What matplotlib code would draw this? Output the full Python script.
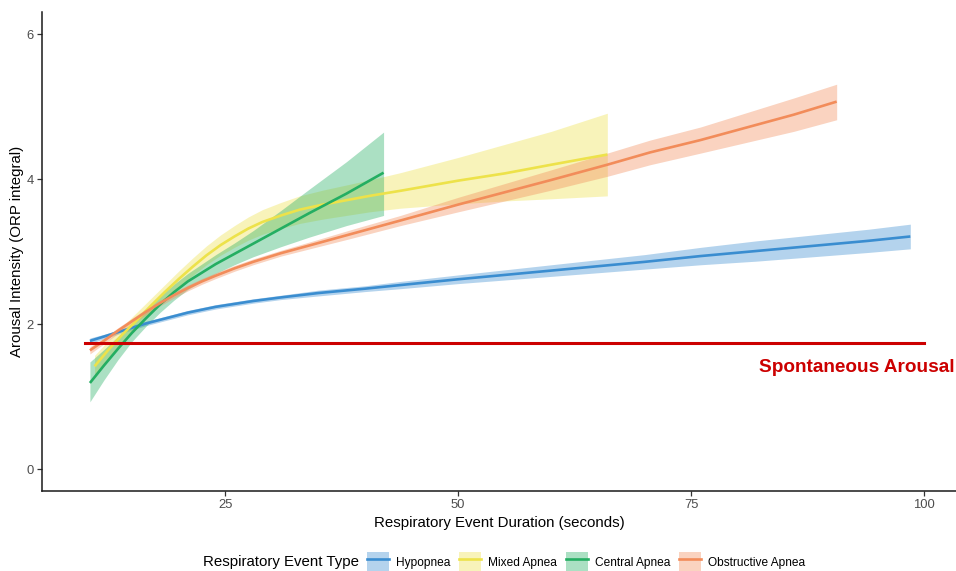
import matplotlib
matplotlib.use("Agg")
import matplotlib.pyplot as plt
from matplotlib.patches import Patch
from matplotlib.lines import Line2D

plt.rcParams["font.family"] = ["Liberation Sans", "DejaVu Sans"]

# ---------------- data ----------------
hypo_x = [10.5, 12, 13.5, 15, 16.5, 18, 19.5, 21, 22.5, 24, 26, 28, 31, 35, 40, 43.8,
          50, 55, 60, 65, 70, 76, 82, 88, 94, 98.5]
hypo_y = [1.77, 1.83, 1.89, 1.95, 2.01, 2.06, 2.11, 2.16, 2.20, 2.24, 2.28, 2.32, 2.37, 2.43, 2.49, 2.54,
          2.62, 2.68, 2.74, 2.80, 2.86, 2.94, 3.01, 3.08, 3.15, 3.21]
hypo_lo = [1.73, 1.80, 1.86, 1.92, 1.98, 2.03, 2.08, 2.13, 2.17, 2.21, 2.25, 2.29, 2.34, 2.39, 2.45, 2.49,
           2.56, 2.61, 2.66, 2.71, 2.76, 2.82, 2.87, 2.93, 2.99, 3.04]
hypo_hi = [1.81, 1.86, 1.92, 1.98, 2.04, 2.09, 2.14, 2.19, 2.23, 2.27, 2.31, 2.35, 2.40, 2.47, 2.53, 2.59,
           2.68, 2.75, 2.82, 2.89, 2.96, 3.06, 3.15, 3.23, 3.31, 3.38]

mixed_x = [11, 12.5, 14, 15.5, 17, 18.5, 20, 21.5, 23, 24.5, 26, 27.5, 29, 31, 33, 35.5, 38, 40.5,
           43.8, 50, 55, 60, 66]
mixed_y = [1.42, 1.65, 1.86, 2.05, 2.25, 2.44, 2.62, 2.79, 2.95, 3.09, 3.21, 3.32, 3.41, 3.50, 3.58, 3.65, 3.71, 3.77,
           3.84, 3.98, 4.08, 4.20, 4.34]
mixed_lo = [1.27, 1.52, 1.75, 1.94, 2.15, 2.34, 2.51, 2.67, 2.82, 2.95, 3.06, 3.16, 3.24, 3.32, 3.39, 3.45, 3.50, 3.55,
            3.60, 3.66, 3.70, 3.73, 3.77]
mixed_hi = [1.57, 1.78, 1.97, 2.16, 2.35, 2.54, 2.73, 2.91, 3.08, 3.23, 3.36, 3.48, 3.58, 3.68, 3.77, 3.85, 3.92, 3.99,
            4.09, 4.30, 4.48, 4.66, 4.91]

central_x = [10.5, 12, 13.5, 15, 16.5, 18, 19.5, 21, 22.5, 24, 26, 28, 31, 34, 38, 42]
central_y = [1.19, 1.43, 1.66, 1.88, 2.08, 2.27, 2.44, 2.59, 2.71, 2.83, 2.97, 3.11, 3.32, 3.53, 3.80, 4.09]
central_lo = [0.93, 1.23, 1.51, 1.76, 1.97, 2.16, 2.33, 2.48, 2.59, 2.70, 2.82, 2.93, 3.07, 3.20, 3.36, 3.50]
central_hi = [1.48, 1.65, 1.83, 2.01, 2.19, 2.38, 2.55, 2.70, 2.83, 2.96, 3.12, 3.29, 3.57, 3.86, 4.24, 4.65]

obstr_x = [10.5, 12, 13.5, 15, 16.5, 18, 19.5, 21, 22.5, 24, 26, 28, 31, 35, 38.4, 43.8,
           50, 55, 60, 66, 70.6, 76, 82, 86, 90.6]
obstr_y = [1.64, 1.77, 1.91, 2.04, 2.17, 2.29, 2.40, 2.50, 2.59, 2.67, 2.77, 2.86, 2.98, 3.12, 3.24, 3.43,
           3.65, 3.82, 3.99, 4.20, 4.37, 4.54, 4.75, 4.89, 5.07]
obstr_lo = [1.59, 1.73, 1.87, 2.00, 2.13, 2.25, 2.36, 2.46, 2.55, 2.63, 2.73, 2.82, 2.94, 3.07, 3.18, 3.36,
            3.55, 3.70, 3.85, 4.04, 4.20, 4.36, 4.54, 4.66, 4.82]
obstr_hi = [1.69, 1.81, 1.95, 2.08, 2.21, 2.33, 2.44, 2.54, 2.63, 2.71, 2.81, 2.90, 3.02, 3.17, 3.30, 3.50,
            3.75, 3.94, 4.13, 4.36, 4.54, 4.72, 4.96, 5.12, 5.31]

spont_x = [10, 100]
spont_y = 1.74

series = [
    ("Hypopnea", hypo_x, hypo_y, hypo_lo, hypo_hi, "#3A8DD0"),
    ("Mixed Apnea", mixed_x, mixed_y, mixed_lo, mixed_hi, "#EDE24A"),
    ("Central Apnea", central_x, central_y, central_lo, central_hi, "#24AE62"),
    ("Obstructive Apnea", obstr_x, obstr_y, obstr_lo, obstr_hi, "#F28C5A"),
]

# ---------------- plot ----------------
fig = plt.figure(figsize=(9.56, 5.71), dpi=100)
ax = fig.add_axes([42 / 956, 80 / 571, 1 - 42 / 956, (491 - 11.7) / 571])

for name, x, y, lo, hi, col in series:
    ax.fill_between(x, lo, hi, color=col, alpha=0.38, lw=0, zorder=2)
for name, x, y, lo, hi, col in series:
    ax.plot(x, y, color=col, lw=1.9, zorder=3, solid_capstyle="butt", solid_joinstyle="round")

ax.plot(spont_x, [spont_y, spont_y], color="#CC0000", lw=2.2, zorder=4)
ax.text(103.3, 1.41, "Spontaneous Arousal", color="#CC0000", fontsize=13.7,
        fontweight="bold", ha="right", va="center", clip_on=False)

ax.set_xlim(5.36, 103.4)
ax.set_ylim(-0.30, 6.31)
ax.set_xticks([25, 50, 75, 100])
ax.set_yticks([0, 2, 4, 6])
for s in ["top", "right"]:
    ax.spines[s].set_visible(False)
for s in ["left", "bottom"]:
    ax.spines[s].set_linewidth(1.1)
    ax.spines[s].set_color("#1a1a1a")
ax.tick_params(length=3.5, width=0.9, color="#333333", labelcolor="#4D4D4D",
               labelsize=9.4, pad=2.5)

ax.set_xlabel("Respiratory Event Duration (seconds)", fontsize=10.8, labelpad=3)
ax.set_ylabel("Arousal Intensity (ORP integral)", fontsize=10.8, labelpad=1.5)

handles = []
for name, x, y, lo, hi, col in series:
    handles.append((Patch(facecolor=col, alpha=0.38, lw=0),
                    Line2D([], [], color=col, lw=1.9)))
fig.text(203 / 956, 1 - 562 / 571, "Respiratory Event Type", fontsize=10.8,
         ha="left", va="center")
fig.legend(handles, [s[0] for s in series], loc="center left",
           bbox_to_anchor=(367 / 956, 1 - 562 / 571), ncol=4, frameon=False,
           fontsize=8.6, handlelength=1.85, handleheight=2.1, handletextpad=0.6,
           columnspacing=0.7, borderpad=0, borderaxespad=0)

fig.savefig("out.png", dpi=100)
